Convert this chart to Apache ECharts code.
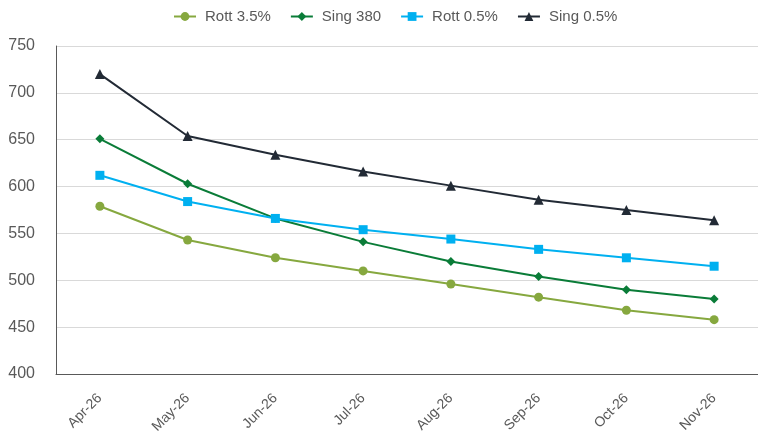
<!DOCTYPE html>
<html><head><meta charset="utf-8">
<script src="https://cdn.jsdelivr.net/npm/echarts@6/dist/echarts.min.js"></script>
<style>html,body{margin:0;padding:0;background:#fff}#c{width:758px;height:441px}</style>
</head><body><div id="c"></div>
<script>
const categories = ['Apr-26','May-26','Jun-26','Jul-26','Aug-26','Sep-26','Oct-26','Nov-26'];
const rott35 = [579, 543, 524, 510, 496, 482, 468, 458];
const sing380 = [651, 603, 566, 541, 520, 504, 490, 480];
const rott05 = [612, 584, 566, 554, 544, 533, 524, 515];
const sing05 = [720, 654, 634, 616, 601, 586, 575, 564];
const yTicks = [400, 450, 500, 550, 600, 650, 700, 750];

const font = 'Liberation Sans, Arial, sans-serif';
function mk(name, data, color, symbol, size) {
  return { name, type: 'line', data, symbol, symbolSize: size,
    lineStyle: { color, width: 2 }, itemStyle: { color }, animation: false };
}
const chart = echarts.init(document.getElementById('c'));
chart.setOption({
  animation: false,
  textStyle: { fontFamily: font },
  legend: { top: 4, left: 168, itemWidth: 22, itemHeight: 11, itemGap: 19,
    textStyle: { fontFamily: font, fontSize: 15, color: '#595959', padding: [0, 0, 0, 4] } },
  grid: { left: 56, right: 0, top: 46, bottom: 67, containLabel: false },
  xAxis: { type: 'category', data: categories, boundaryGap: true,
    axisLine: { lineStyle: { color: '#595959', width: 1 } },
    axisTick: { show: false },
    axisLabel: { rotate: 45, margin: 22, fontSize: 14, color: '#595959', fontFamily: font, interval: 0 } },
  yAxis: { type: 'value', min: yTicks[0], max: yTicks[yTicks.length-1], interval: 50,
    axisLine: { show: true, lineStyle: { color: '#595959', width: 1 } },
    axisTick: { show: false },
    splitLine: { lineStyle: { color: '#d9d9d9', width: 1 } },
    axisLabel: { margin: 21, fontSize: 16, color: '#595959', fontFamily: font } },
  series: [
    mk('Rott 3.5%', rott35, '#86a83f', 'circle', 9),
    mk('Sing 380', sing380, '#0a7c38', 'diamond', 9),
    mk('Rott 0.5%', rott05, '#00b0f0', 'rect', 9),
    mk('Sing 0.5%', sing05, '#222a35', 'triangle', 10)
  ]
});
</script></body></html>
